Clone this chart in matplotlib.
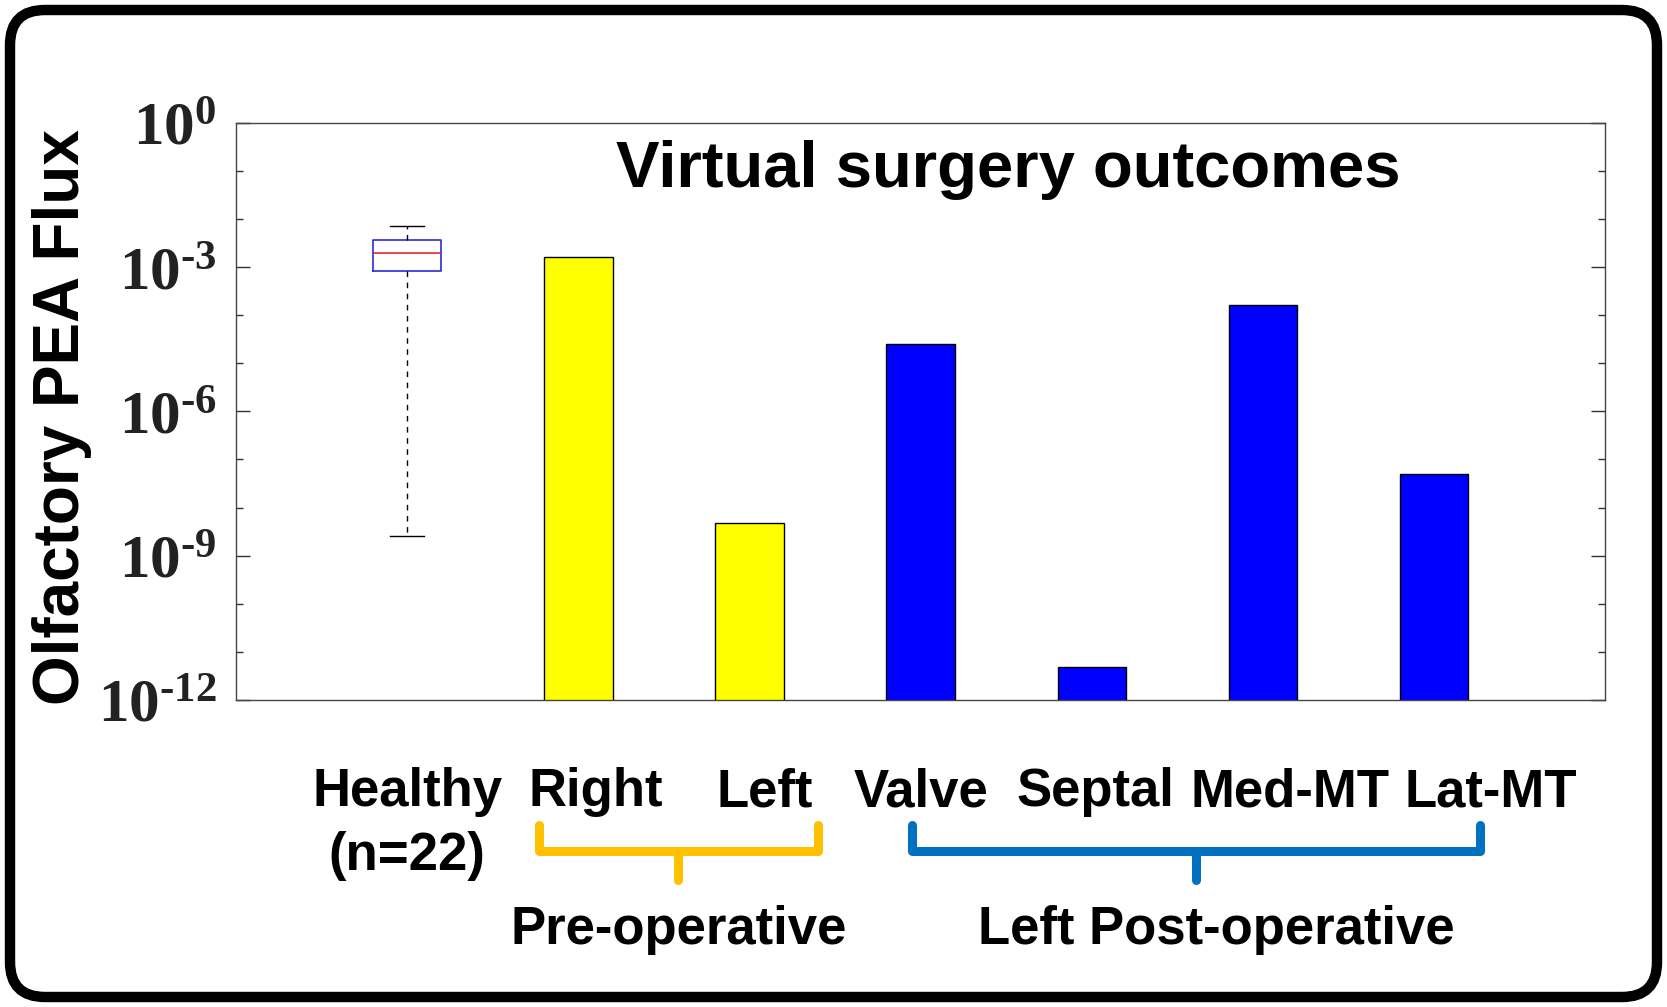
import numpy as np
import matplotlib
matplotlib.use('Agg')
import matplotlib.pyplot as plt
from matplotlib.patches import FancyBboxPatch
from matplotlib.transforms import IdentityTransform, blended_transform_factory
from matplotlib.ticker import LogLocator, NullFormatter, FuncFormatter

# data
categories = ['Healthy\n(n=22)', 'Right', 'Left', 'Valve', 'Septal', 'Med-MT', 'Lat-MT']
bar_values = [1.6e-3, 4.8e-9, 2.5e-5, 4.9e-12, 1.6e-4, 5.0e-8]
bar_colors = ['#FFFF00', '#FFFF00', '#0000FF', '#0000FF', '#0000FF', '#0000FF']
healthy_stats = dict(whislo=2.6e-9, q1=8.4e-4, med=2.0e-3, q3=3.7e-3, whishi=7.1e-3)
groups = ['Pre-operative', 'Left Post-operative']
group_colors = ['#FFC000', '#0070C0']

# layout
label_shift = [0.0, 0.1, 0.09, 0.0, 0.02, 0.16, 0.33]
brace_spans = [(1.77, 3.40), (3.95, 7.27)]
group_shift = [0.0, 0.12]

plt.rcParams['font.family'] = ['Liberation Sans', 'DejaVu Sans']
plt.rcParams['font.weight'] = 'bold'
plt.rcParams['mathtext.fontset'] = 'custom'
plt.rcParams['mathtext.rm'] = 'Liberation Serif:bold'
plt.rcParams['mathtext.it'] = 'Liberation Serif:bold'
plt.rcParams['mathtext.bf'] = 'Liberation Serif:bold'


def pow_label(v, pos):
    e = int(round(np.log10(v)))
    if e < 0:
        return r'$\mathbf{10}^{\text{-}\mathbf{%d}}$' % (-e)
    return r'$\mathbf{10}^{\mathbf{%d}}$' % e


fig = plt.figure(figsize=(16.67, 10.07), dpi=100)
ax = fig.add_axes([0.1416, 0.305, 0.8214, 0.573])

x = np.arange(1, len(categories) + 1)

# healthy box
stats = dict(healthy_stats, fliers=[], label='')
ax.bxp([stats], positions=[x[0]], widths=0.4, showfliers=False,
       boxprops=dict(color='#2B2BD9', linewidth=1.2),
       medianprops=dict(color='#E8262B', linewidth=1.2),
       whiskerprops=dict(color='black', linewidth=1.0, linestyle=(0, (4, 4))),
       capprops=dict(color='black', linewidth=1.0), capwidths=0.2)

ax.bar(x[1:], bar_values, width=0.4, color=bar_colors, edgecolor='black', linewidth=1.0)

ax.set_yscale('log')
ax.set_ylim(1e-12, 1)
ax.set_xlim(0, 8)
ax.set_xticks([])
ax.yaxis.set_major_locator(LogLocator(base=1000.0, numticks=10))
ax.yaxis.set_major_formatter(FuncFormatter(pow_label))
ax.yaxis.set_minor_locator(LogLocator(base=10.0, subs=(1.0,), numticks=20))
ax.yaxis.set_minor_formatter(NullFormatter())
ax.tick_params(axis='y', which='both', direction='in', left=True, right=True,
               color='#333333', width=1.0)
ax.tick_params(axis='y', which='major', length=10, labelsize=44, pad=14,
               labelcolor='#222222')
ax.tick_params(axis='y', which='minor', length=5)
for s in ax.spines.values():
    s.set_color('#444444')
    s.set_linewidth(1.0)

ax.text(0.6046, 0.831, 'Virtual surgery outcomes', transform=fig.transFigure,
        ha='center', va='center', fontsize=47, fontweight='bold')

fig.text(0.037, 0.586, 'Olfactory PEA Flux', rotation=90, ha='center', va='center',
         fontsize=46, fontweight='bold')

tr = blended_transform_factory(ax.transData, fig.transFigure)
for xi, lab, dx in zip(x, categories, label_shift):
    if '\n' in lab:
        top, bot = lab.split('\n')
        ax.text(xi + dx, 0.2135, top, transform=tr, ha='center', va='center',
                fontsize=38, fontweight='bold')
        ax.text(xi + dx, 0.150, bot, transform=tr, ha='center', va='center',
                fontsize=38, fontweight='bold')
    else:
        ax.text(xi + dx, 0.2135, lab, transform=tr, ha='center', va='center',
                fontsize=38, fontweight='bold')

# braces
y_top, y_mid, y_bot = 0.181, 0.155, 0.126
for (x0, x1), g, c, gdx in zip(brace_spans, groups, group_colors, group_shift):
    xc = (x0 + x1) / 2
    ax.plot([x0, x0, x1, x1], [y_top, y_mid, y_mid, y_top], transform=tr,
            color=c, linewidth=6.5, solid_joinstyle='round', solid_capstyle='round',
            clip_on=False)
    ax.plot([xc, xc], [y_mid, y_bot], transform=tr, color=c, linewidth=6.5,
            solid_capstyle='round', clip_on=False)
    ax.text(xc + gdx, 0.0762, g, transform=tr, ha='center', va='center',
            fontsize=38, fontweight='bold')

# outer rounded frame
frame = FancyBboxPatch((10, 10), 1647, 987, boxstyle='round,pad=0,rounding_size=35',
                       transform=IdentityTransform(), facecolor='none',
                       edgecolor='black', linewidth=7.5)
fig.add_artist(frame)

fig.savefig('out.png', dpi=100)
